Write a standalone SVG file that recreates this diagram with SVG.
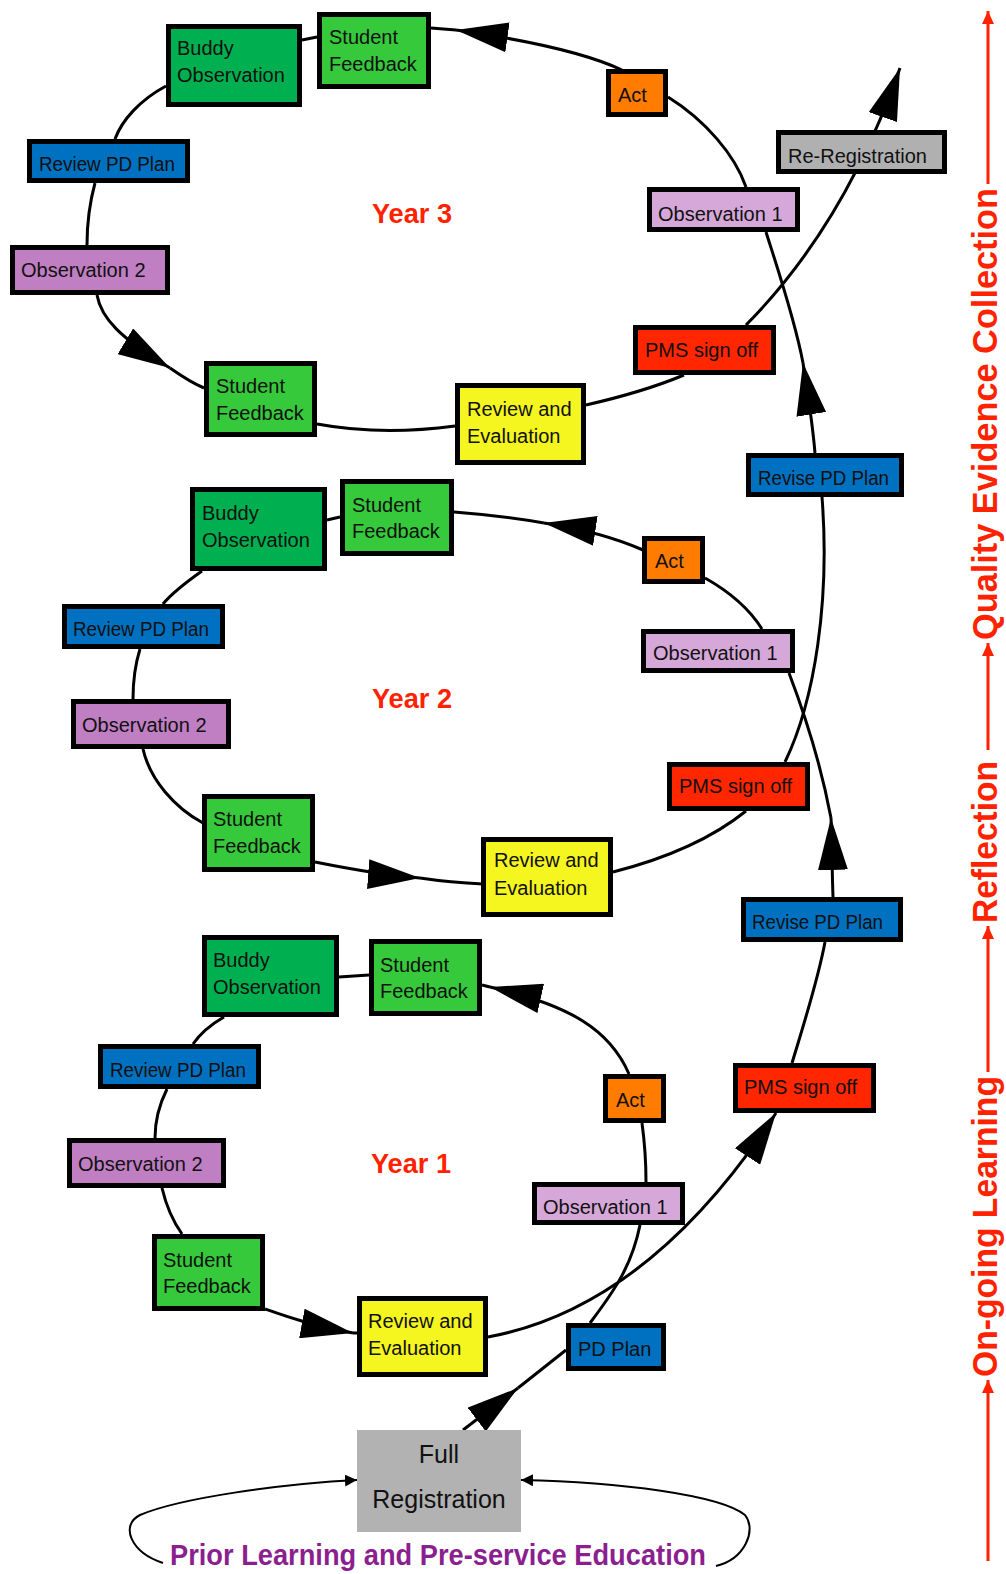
<svg xmlns="http://www.w3.org/2000/svg" width="1006" height="1574" viewBox="0 0 1006 1574">
<style>
.b{stroke:#000;stroke-width:5}
.t{font-family:"Liberation Sans",Arial,sans-serif;font-size:20px;fill:#111}
.c{fill:none;stroke:#000;stroke-width:3}
.c2{fill:none;stroke:#000;stroke-width:2}
.r{fill:none;stroke:#ff2200;stroke-width:3}
.yr{font-family:"Liberation Sans",Arial,sans-serif;font-size:28px;font-weight:bold;fill:#ff2200}
.side{font-family:"Liberation Sans",Arial,sans-serif;font-size:35px;font-weight:bold;fill:#ff2200}
.sf{fill:#36c93c}.bo{fill:#00b050}.pd{fill:#0070c0}.o2{fill:#c07ec3}.o1{fill:#d5a8d9}
.act{fill:#ff7c00}.pms{fill:#ff2600}.re{fill:#f5f51f}.gr{fill:#b0b0b0}
</style>
<defs>
<marker id="ah" viewBox="0 0 52 30" refX="52" refY="15" markerWidth="52" markerHeight="30" markerUnits="userSpaceOnUse" orient="auto"><path d="M0,0 L52,15 L0,30 z" fill="#000"/></marker>
<marker id="sm" viewBox="0 0 12 12" refX="12" refY="6" markerWidth="12" markerHeight="12" markerUnits="userSpaceOnUse" orient="auto"><path d="M0,0 L12,6 L0,12 z" fill="#000"/></marker>
<marker id="rh" viewBox="0 0 13 12" refX="13" refY="6" markerWidth="13" markerHeight="12" markerUnits="userSpaceOnUse" orient="auto"><path d="M0,0 L13,6 L0,12 z" fill="#ff2200"/></marker>
</defs>
<rect width="1006" height="1574" fill="#fff"/>
<g id="connectors">
<path class="c" d="M463,1430 L518,1388" marker-end="url(#ah)"/>
<path class="c" d="M518,1388 L566,1350"/>
<path class="c" d="M590,1323 C615,1290 632,1265 640,1225"/>
<path class="c" d="M646,1182 C646,1165 645,1145 642,1123"/>
<path class="c" d="M629,1074 C610,1030 570,1005 490,987" marker-end="url(#ah)"/>
<path class="c" d="M490,987 L482,985"/>
<path class="c" d="M369,975 L339,977"/>
<path class="c" d="M224,1017 C210,1025 200,1034 193,1044"/>
<path class="c" d="M167,1089 C159,1105 155,1120 155,1138"/>
<path class="c" d="M162,1188 C166,1205 172,1220 182,1234"/>
<path class="c" d="M265,1309 C285,1316 310,1325 353,1333" marker-end="url(#ah)"/>
<path class="c" d="M353,1333 L357,1333"/>
<path class="c" d="M488,1337 C580,1320 680,1260 776,1113" marker-end="url(#ah)"/>
<path class="c" d="M792,1063 C805,1020 818,980 825,942"/>
<path class="c" d="M833,897 C832,870 832,845 831,818" marker-end="url(#ah)"/>
<path class="c" d="M831,818 C822,770 805,715 789,673"/>
<path class="c" d="M762,629 C750,610 730,592 705,578"/>
<path class="c" d="M643,550 C620,540 590,530 544,523" marker-end="url(#ah)"/>
<path class="c" d="M544,523 C510,517 480,514 454,512"/>
<path class="c" d="M340,517 L327,520"/>
<path class="c" d="M202,571 C185,583 172,593 163,604"/>
<path class="c" d="M140,649 C135,665 133,680 133,699"/>
<path class="c" d="M143,749 C150,780 175,808 203,823"/>
<path class="c" d="M315,862 C345,868 380,875 420,878" marker-end="url(#ah)"/>
<path class="c" d="M420,878 C440,881 460,883 483,884"/>
<path class="c" d="M613,872 C660,860 710,840 746,811"/>
<path class="c" d="M785,762 C815,700 830,600 822,497"/>
<path class="c" d="M815,453 C813,430 809,400 803,363" marker-end="url(#ah)"/>
<path class="c" d="M803,363 C795,320 778,270 766,232"/>
<path class="c" d="M746,187 C735,155 705,120 668,97"/>
<path class="c" d="M622,70 C590,55 540,42 456,30" marker-end="url(#ah)"/>
<path class="c" d="M456,30 L431,28"/>
<path class="c" d="M317,37 L302,40"/>
<path class="c" d="M166,86 C140,100 122,120 115,139"/>
<path class="c" d="M95,183 C89,205 87,225 87,245"/>
<path class="c" d="M97,295 C101,318 120,338 170,368" marker-end="url(#ah)"/>
<path class="c" d="M170,368 C180,375 192,383 204,388"/>
<path class="c" d="M317,424 C360,432 410,432 455,426"/>
<path class="c" d="M586,405 C630,395 660,385 684,375"/>
<path class="c" d="M746,325 Q845,225 900,68" marker-end="url(#ah)"/>
<path class="c2" d="M163,1563 C130,1552 120,1525 140,1515 C180,1498 280,1484 357,1480" marker-end="url(#sm)"/>
<path class="c2" d="M716,1566 C745,1559 757,1530 745,1515 C720,1495 620,1482 521,1480" marker-end="url(#sm)"/>
<path class="r" d="M988,1561 L988,1380" marker-end="url(#rh)"/>
<path class="r" d="M988,1072 L988,926" marker-end="url(#rh)"/>
<path class="r" d="M988,750 L988,643" marker-end="url(#rh)"/>
<path class="r" d="M988,184 L988,11" marker-end="url(#rh)"/>
</g>
<g id="y3-sf-top"><rect class="b sf" x="319.5" y="14.5" width="109" height="72"/><text class="t" x="329" y="44">Student</text><text class="t" x="329" y="71">Feedback</text></g>
<g id="y3-buddy"><rect class="b bo" x="168.5" y="26.5" width="131" height="78"/><text class="t" x="177" y="55">Buddy</text><text class="t" x="177" y="82">Observation</text></g>
<g id="y3-rpd"><rect class="b pd" x="29.5" y="141.5" width="158" height="39"/><text class="t" x="39" y="171" textLength="136" lengthAdjust="spacingAndGlyphs">Review PD Plan</text></g>
<g id="y3-obs2"><rect class="b o2" x="12.5" y="247.5" width="155" height="45"/><text class="t" x="21" y="277">Observation 2</text></g>
<g id="y3-sf-low"><rect class="b sf" x="206.5" y="363.5" width="108" height="71"/><text class="t" x="216" y="393">Student</text><text class="t" x="216" y="420">Feedback</text></g>
<g id="y3-re"><rect class="b re" x="457.5" y="385.5" width="126" height="77"/><text class="t" x="467" y="416">Review and</text><text class="t" x="467" y="443">Evaluation</text></g>
<g id="y3-pms"><rect class="b pms" x="635.5" y="327.5" width="138" height="45"/><text class="t" x="645" y="357">PMS sign off</text></g>
<g id="y3-obs1"><rect class="b o1" x="649.5" y="189.5" width="148" height="40"/><text class="t" x="658" y="221">Observation 1</text></g>
<g id="y3-act"><rect class="b act" x="608.5" y="71.5" width="57" height="43"/><text class="t" x="618" y="102">Act</text></g>
<g id="rereg"><rect class="b gr" x="778.5" y="132.5" width="166" height="39"/><text class="t" x="788" y="163">Re-Registration</text></g>
<g id="revise-upper"><rect class="b pd" x="748.5" y="455.5" width="153" height="39"/><text class="t" x="758" y="485" textLength="131" lengthAdjust="spacingAndGlyphs">Revise PD Plan</text></g>
<g id="year3"><text class="yr" x="372" y="223" textLength="80" lengthAdjust="spacingAndGlyphs">Year 3</text></g>
<g id="y2-buddy"><rect class="b bo" x="192.5" y="489.5" width="132" height="79"/><text class="t" x="202" y="520">Buddy</text><text class="t" x="202" y="547">Observation</text></g>
<g id="y2-sf-top"><rect class="b sf" x="342.5" y="481.5" width="109" height="72"/><text class="t" x="352" y="512">Student</text><text class="t" x="352" y="538">Feedback</text></g>
<g id="y2-rpd"><rect class="b pd" x="64.5" y="606.5" width="158" height="40"/><text class="t" x="73" y="636" textLength="136" lengthAdjust="spacingAndGlyphs">Review PD Plan</text></g>
<g id="y2-obs2"><rect class="b o2" x="73.5" y="701.5" width="155" height="45"/><text class="t" x="82" y="732">Observation 2</text></g>
<g id="y2-sf-low"><rect class="b sf" x="204.5" y="796.5" width="108" height="73"/><text class="t" x="213" y="826">Student</text><text class="t" x="213" y="853">Feedback</text></g>
<g id="y2-re"><rect class="b re" x="483.5" y="839.5" width="127" height="75"/><text class="t" x="494" y="867">Review and</text><text class="t" x="494" y="895">Evaluation</text></g>
<g id="y2-pms"><rect class="b pms" x="669.5" y="764.5" width="138" height="44"/><text class="t" x="679" y="793">PMS sign off</text></g>
<g id="y2-obs1"><rect class="b o1" x="643.5" y="631.5" width="149" height="39"/><text class="t" x="653" y="660">Observation 1</text></g>
<g id="y2-act"><rect class="b act" x="644.5" y="538.5" width="58" height="43"/><text class="t" x="655" y="568">Act</text></g>
<g id="revise-lower"><rect class="b pd" x="743.5" y="899.5" width="157" height="40"/><text class="t" x="752" y="929" textLength="131" lengthAdjust="spacingAndGlyphs">Revise PD Plan</text></g>
<g id="year2"><text class="yr" x="372" y="708" textLength="80" lengthAdjust="spacingAndGlyphs">Year 2</text></g>
<g id="y1-buddy"><rect class="b bo" x="204.5" y="937.5" width="132" height="77"/><text class="t" x="213" y="967">Buddy</text><text class="t" x="213" y="994">Observation</text></g>
<g id="y1-sf-top"><rect class="b sf" x="371.5" y="941.5" width="108" height="72"/><text class="t" x="380" y="972">Student</text><text class="t" x="380" y="998">Feedback</text></g>
<g id="y1-rpd"><rect class="b pd" x="100.5" y="1046.5" width="158" height="40"/><text class="t" x="110" y="1077" textLength="136" lengthAdjust="spacingAndGlyphs">Review PD Plan</text></g>
<g id="y1-obs2"><rect class="b o2" x="69.5" y="1140.5" width="154" height="45"/><text class="t" x="78" y="1171">Observation 2</text></g>
<g id="y1-sf-low"><rect class="b sf" x="154.5" y="1236.5" width="108" height="72"/><text class="t" x="163" y="1267">Student</text><text class="t" x="163" y="1293">Feedback</text></g>
<g id="y1-re"><rect class="b re" x="359.5" y="1298.5" width="126" height="76"/><text class="t" x="368" y="1328">Review and</text><text class="t" x="368" y="1355">Evaluation</text></g>
<g id="y1-act"><rect class="b act" x="605.5" y="1076.5" width="58" height="44"/><text class="t" x="616" y="1107">Act</text></g>
<g id="y1-obs1"><rect class="b o1" x="534.5" y="1184.5" width="148" height="38"/><text class="t" x="543" y="1214">Observation 1</text></g>
<g id="pdplan"><rect class="b pd" x="568.5" y="1325.5" width="95" height="43"/><text class="t" x="578" y="1356">PD Plan</text></g>
<g id="y1-pms"><rect class="b pms" x="735.5" y="1065.5" width="138" height="45"/><text class="t" x="744" y="1094">PMS sign off</text></g>
<g id="year1"><text class="yr" x="371" y="1173" textLength="80" lengthAdjust="spacingAndGlyphs">Year 1</text></g>
<g id="fullreg"><rect x="357" y="1430" width="164" height="102" fill="#b2b2b2"/><text class="t" x="439" y="1463" text-anchor="middle" style="font-size:25px">Full</text><text class="t" x="439" y="1508" text-anchor="middle" style="font-size:25px">Registration</text></g>
<g id="prior"><text x="170" y="1565" textLength="536" lengthAdjust="spacingAndGlyphs" style="font-family:'Liberation Sans',Arial,sans-serif;font-size:29px;font-weight:bold;fill:#8b1f8f">Prior Learning and Pre-service Education</text></g>
<g id="side-labels">
<text class="side" transform="translate(997,640) rotate(-90)" textLength="452" lengthAdjust="spacingAndGlyphs">Quality Evidence Collection</text>
<text class="side" transform="translate(997,923) rotate(-90)" textLength="162" lengthAdjust="spacingAndGlyphs">Reflection</text>
<text class="side" transform="translate(997,1377) rotate(-90)" textLength="301" lengthAdjust="spacingAndGlyphs">On-going Learning</text>
</g>
</svg>
